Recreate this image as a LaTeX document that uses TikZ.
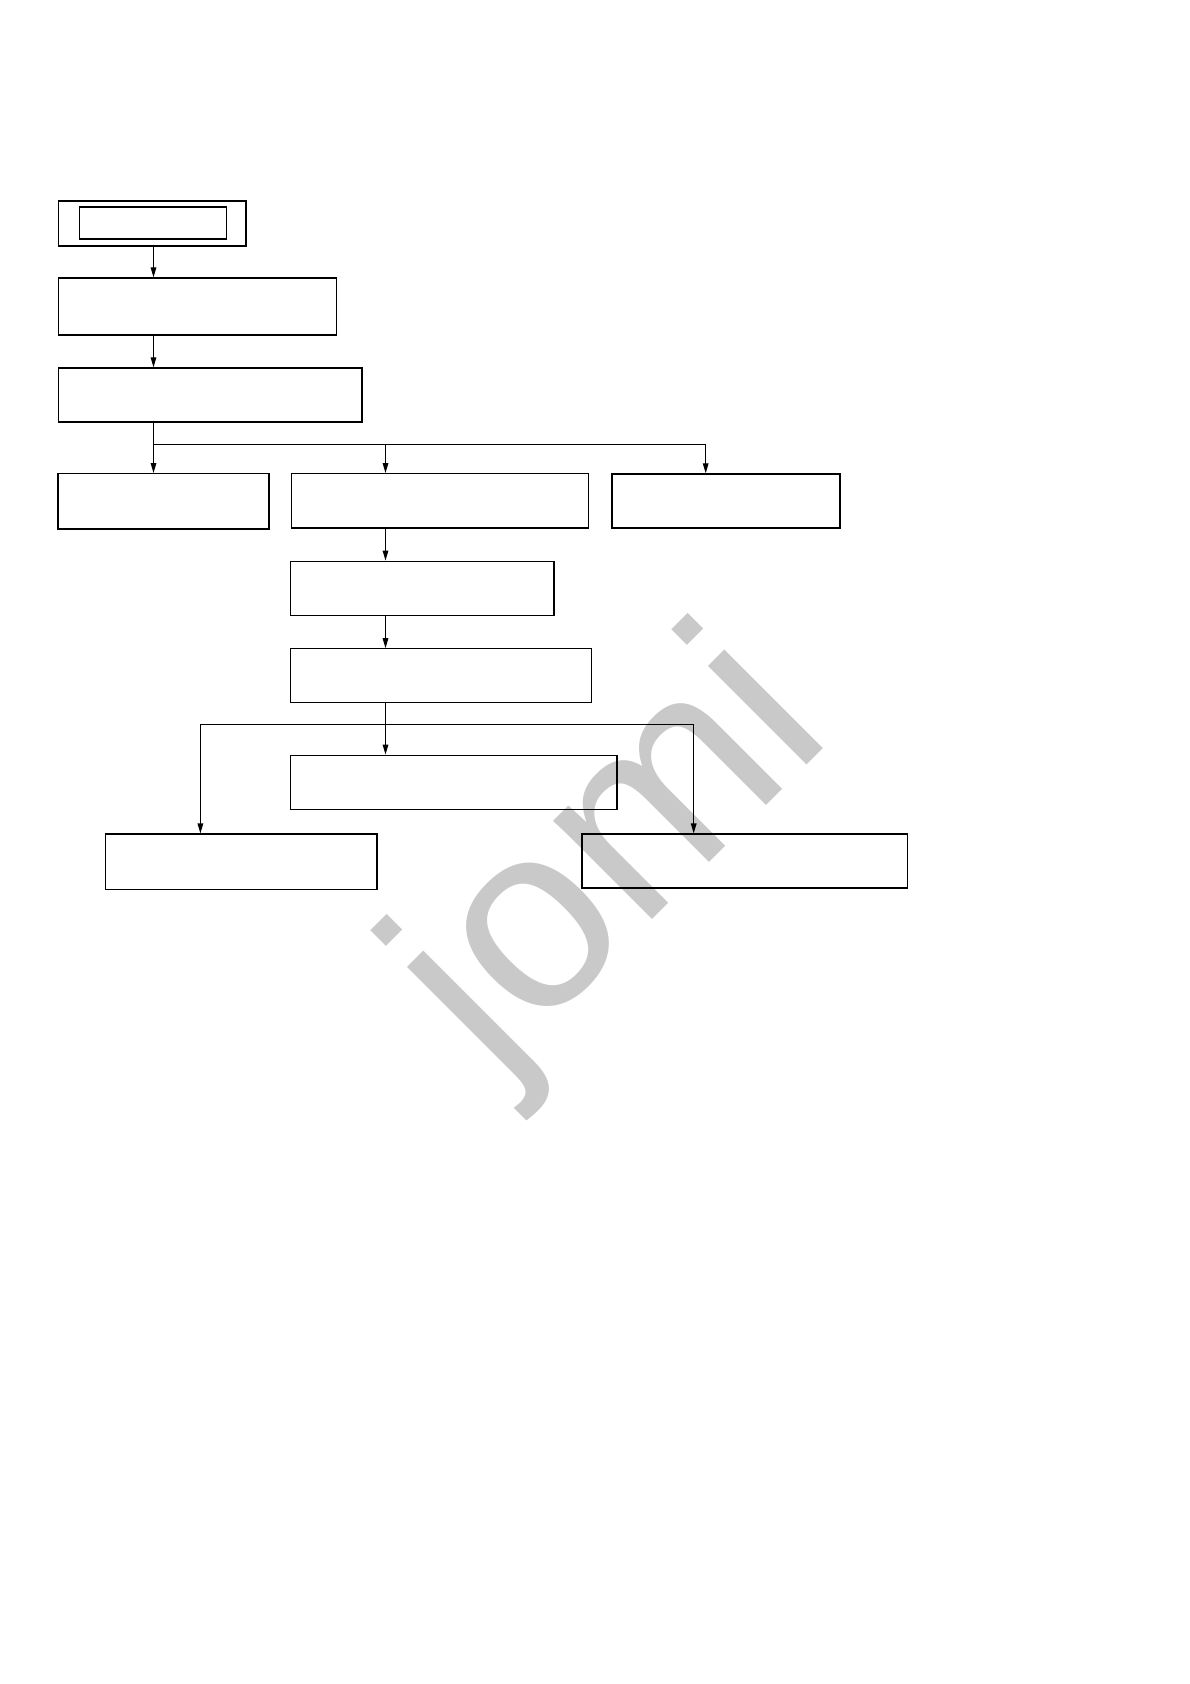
\documentclass[tikz,border=0pt]{standalone}
\usepackage{fontspec}
\newfontfamily\wasserfont{Liberation Sans}
\usepackage{tikz}
\usetikzlibrary{arrows.meta,positioning,calc}

\tikzset{
    kasten/.style={draw, line width=0.6pt, inner sep=0pt, anchor=north west},
    pfeil/.style={-{Triangle[length=5bp,width=2.8bp]}, line width=0.6pt}
}

\begin{document}
\begin{tikzpicture}[x=0.5bp,y=-0.5bp]
        % Umgebung
        \useasboundingbox (0,0) rectangle (1190,1684);
        
        % Wasserzeichen
        \node[text=black!21, rotate=45, anchor=base, inner sep=0pt] (wz) at (665,907)
            {\wasserfont\fontsize{132bp}{132bp}\selectfont jomi};
        
        % Spalten und Verzweigungen
        \coordinate (sA) at (153.5,0);
        \coordinate (sB) at (385.5,0);
        \coordinate (sC) at (705.7,0);
        \coordinate (sD) at (200.4,0);
        \coordinate (sE) at (693.7,0);
        \coordinate (v1) at (0,444.3);
        \coordinate (v2) at (0,724.3);
        
        % Start
        \node[kasten, minimum width=93.55bp, minimum height=22.5bp] (start) at (58.2,200.3) {};
        \node[kasten, minimum width=73.3bp, minimum height=16bp] (startinnen) at (79.2,206.3) {};
        
        % Kaesten
        \node[kasten, minimum width=138.7bp, minimum height=28.5bp] (k2) at (58.2,277.3) {};
        \node[kasten, minimum width=151.55bp, minimum height=27bp] (k3) at (58.2,367.3) {};
        \node[kasten, minimum width=105.45bp, minimum height=27.65bp] (k4a) at (57.4,473) {};
        \node[kasten, minimum width=148.5bp, minimum height=27.15bp] (k4b) at (290.5,473) {};
        \node[kasten, minimum width=114bp, minimum height=27bp] (k4c) at (611.3,473.3) {};
        \node[kasten, minimum width=131.7bp, minimum height=27.35bp] (k5) at (289.9,560.5) {};
        \node[kasten, minimum width=150.3bp, minimum height=27bp] (k6) at (289.9,648.2) {};
        \node[kasten, minimum width=163.2bp, minimum height=27bp] (k7) at (289.9,754.5) {};
        \node[kasten, minimum width=135.85bp, minimum height=27.55bp] (k8a) at (104.7,833.4) {};
        \node[kasten, minimum width=162.8bp, minimum height=27bp] (k8b) at (581.4,833.4) {};
        
        % Pfeile
        \draw[pfeil] (start.south -| sA) -- (k2.north -| sA);
        \draw[pfeil] (k2.south -| sA) -- (k3.north -| sA);
        \draw[pfeil] (k3.south -| sA) -- (k4a.north -| sA);
        \draw[pfeil] (v1 -| sA) -| (k4c.north -| sC);
        \draw[pfeil] (v1 -| sB) -- (k4b.north -| sB);
        
        \draw[pfeil] (k4b.south -| sB) -- (k5.north -| sB);
        \draw[pfeil] (k5.south -| sB) -- (k6.north -| sB);
        \draw[pfeil] (k6.south -| sB) -- (k7.north -| sB);
        \draw[pfeil] (v2 -| sB) -| (k8a.north -| sD);
        \draw[pfeil] (v2 -| sB) -| (k8b.north -| sE);
        
\end{tikzpicture}
\end{document}
